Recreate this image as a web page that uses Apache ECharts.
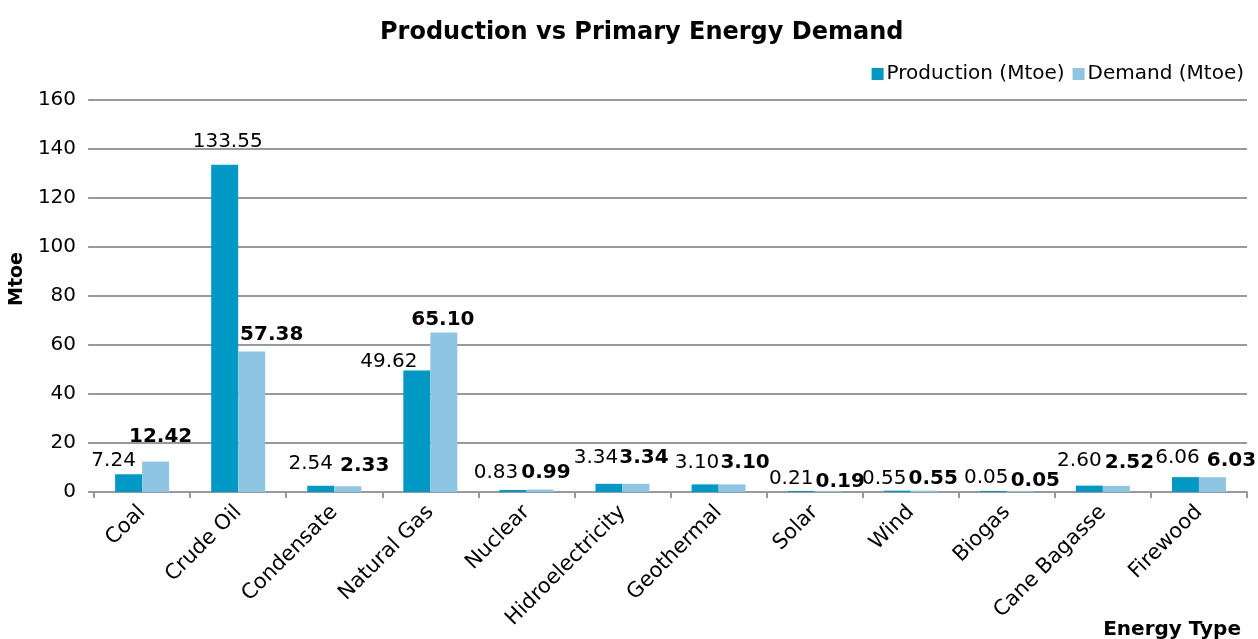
<!DOCTYPE html>
<html>
<head>
<meta charset="utf-8">
<script src="https://cdn.jsdelivr.net/npm/echarts@6/dist/echarts.min.js"></script>
<style>
  html, body { margin: 0; padding: 0; background: #fff; }
  #chart { width: 1258px; height: 639px; }
</style>
</head>
<body>
<div id="chart"></div>
<script>
// Energy balance: production vs primary demand, in Mtoe
const categories = ['Coal', 'Crude Oil', 'Condensate', 'Natural Gas', 'Nuclear', 'Hidroelectricity',
  'Geothermal', 'Solar', 'Wind', 'Biogas', 'Cane Bagasse', 'Firewood'];
const production = [7.24, 133.55, 2.54, 49.62, 0.83, 3.34, 3.10, 0.21, 0.55, 0.05, 2.60, 6.06];
const demand = [12.42, 57.38, 2.33, 65.10, 0.99, 3.34, 3.10, 0.19, 0.55, 0.05, 2.52, 6.03];
const yTicks = { min: 0, max: 160, interval: 20 };

// Hand-placed value labels: [horizontal shift, height of label centre above the bar top]
const productionLabelPlace = [[-15, 16], [3, 26], [-10, 25], [-28, 12], [-17, 20], [-13, 29],
  [-8, 25], [-10, 15], [-13, 15], [-7, 16], [-10, 28], [-8, 22]];
const demandLabelPlace = [[5, 28], [20, 20], [17, 23], [-1, 16], [6, 20], [8, 29],
  [13, 25], [12, 12], [9, 15], [15, 13], [13, 26], [19, 19]];

const FONT = 'DejaVu Sans';
const GRID_GRAY = '#969a9e';
const LABEL_SIZE = 20;

function withLabels(values, places) {
  return values.map((v, i) => ({
    value: v,
    label: { offset: [places[i][0], -(places[i][1] - LABEL_SIZE / 2 - 3)] }
  }));
}

const chart = echarts.init(document.getElementById('chart'), null, { renderer: 'canvas' });

chart.setOption({
  animation: false,
  backgroundColor: '#ffffff',
  textStyle: { fontFamily: FONT, color: '#000' },
  title: [
    {
      text: 'Production vs Primary Energy Demand',
      left: 375,
      top: 16,
      textStyle: { fontFamily: FONT, fontSize: 24, fontWeight: 'bold', color: '#000' }
    },
    {
      text: 'Energy Type',
      right: 12,
      top: 615,
      textStyle: { fontFamily: FONT, fontSize: 20, fontWeight: 'bold', color: '#000' }
    }
  ],
  legend: {
    right: 9,
    top: 59,
    itemWidth: 12,
    itemHeight: 12,
    itemGap: 8,
    icon: 'rect',
    textStyle: { fontFamily: FONT, fontSize: 20, color: '#000', padding: [0, 0, 0, -2] },
    data: ['Production (Mtoe)', 'Demand (Mtoe)']
  },
  grid: { left: 93, right: 11, top: 100, bottom: 147, containLabel: false },
  xAxis: {
    type: 'category',
    data: categories,
    axisLine: { lineStyle: { color: GRID_GRAY, width: 2 } },
    axisTick: { show: true, length: 6, lineStyle: { color: GRID_GRAY, width: 2 } },
    axisLabel: {
      rotate: 45,
      interval: 0,
      margin: 17,
      fontFamily: FONT,
      fontSize: 21,
      color: '#000'
    }
  },
  yAxis: {
    type: 'value',
    min: yTicks.min,
    max: yTicks.max,
    interval: yTicks.interval,
    name: 'Mtoe',
    nameLocation: 'middle',
    nameRotate: 90,
    nameGap: 62,
    nameTextStyle: { fontFamily: FONT, fontSize: 19, fontWeight: 'bold', color: '#000', padding: [0, 0, 0, 34] },
    axisLine: { show: false },
    axisTick: { show: true, length: 6, lineStyle: { color: GRID_GRAY, width: 2 } },
    axisLabel: { margin: 18, fontFamily: FONT, fontSize: 20, color: '#000' },
    splitLine: { lineStyle: { color: GRID_GRAY, width: 2 } }
  },
  series: [
    {
      name: 'Production (Mtoe)',
      type: 'bar',
      data: withLabels(production, productionLabelPlace),
      barWidth: 27,
      barGap: '0%',
      barMinHeight: 1,
      itemStyle: { color: '#0099c6' },
      label: {
        show: true,
        position: 'top',
        distance: 0,
        fontFamily: FONT,
        fontSize: LABEL_SIZE,
        color: '#000',
        formatter: p => p.value.toFixed(2)
      }
    },
    {
      name: 'Demand (Mtoe)',
      type: 'bar',
      data: withLabels(demand, demandLabelPlace),
      barWidth: 27,
      barGap: '0%',
      barMinHeight: 1,
      itemStyle: { color: '#8ec5e2' },
      label: {
        show: true,
        position: 'top',
        distance: 0,
        fontFamily: FONT,
        fontSize: LABEL_SIZE,
        fontWeight: 'bold',
        color: '#000',
        formatter: p => p.value.toFixed(2)
      }
    }
  ]
});
</script>
</body>
</html>
